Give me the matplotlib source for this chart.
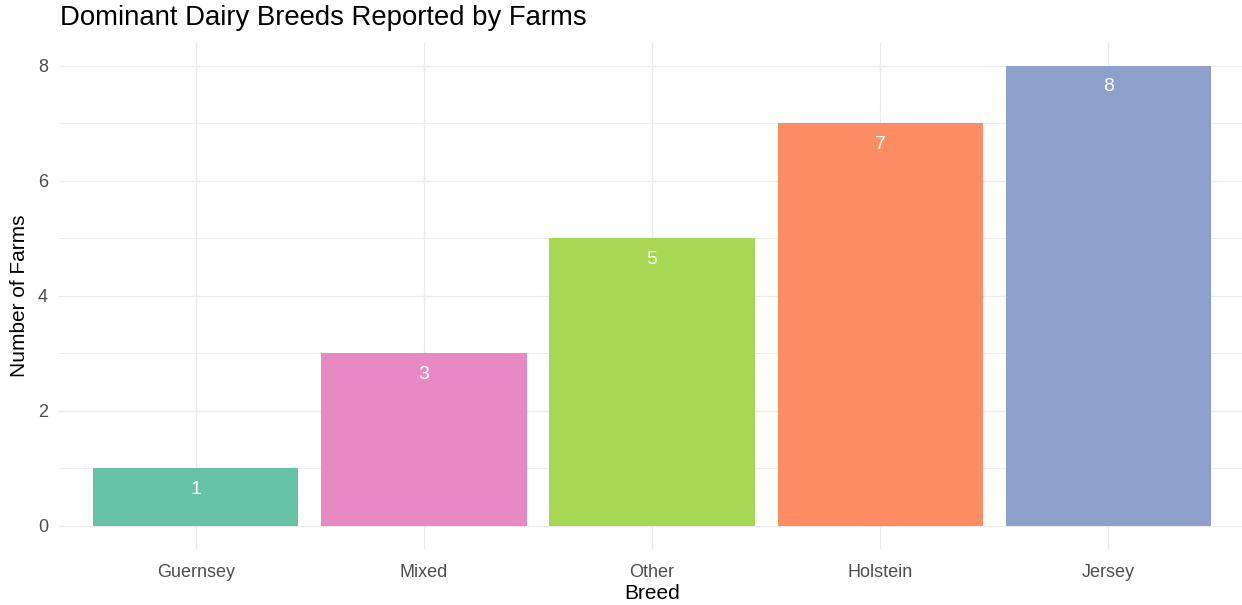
import matplotlib.pyplot as plt
from matplotlib.ticker import MultipleLocator

plt.rcParams["font.family"] = ["Liberation Sans", "DejaVu Sans"]

breeds = ["Guernsey", "Mixed", "Other", "Holstein", "Jersey"]
farms = [1, 3, 5, 7, 8]
colors = ["#66C2A5", "#E78AC3", "#A6D854", "#FC8D62", "#8DA0CB"]

fig = plt.figure(figsize=(12.42, 6.05), dpi=100)
ax = fig.add_axes([0.0475, 0.0926, 0.955, 0.8364])

x = range(1, len(breeds) + 1)
ax.bar(x, farms, width=0.9, color=colors, zorder=2)
for xi, v in zip(x, farms):
    ax.annotate(str(v), (xi, v), xytext=(0, -9), textcoords="offset points",
                ha="center", va="top", color="white", fontsize=14, zorder=3)

ax.set_xlim(0.4, 5.6)
ax.set_ylim(-0.4, 8.4)
ax.set_xticks(list(x))
ax.set_xticklabels(breeds)
ax.yaxis.set_major_locator(MultipleLocator(2))
ax.yaxis.set_minor_locator(MultipleLocator(1))

ax.grid(which="major", color="#EBEBEB", linewidth=1.0, zorder=0)
ax.grid(which="minor", axis="y", color="#EFEFEF", linewidth=0.7, zorder=0)
for s in ax.spines.values():
    s.set_visible(False)
ax.tick_params(which="both", length=0, labelsize=13, labelcolor="#4D4D4D")
ax.tick_params(axis="x", pad=11)
ax.tick_params(axis="y", pad=8)

ax.set_xlabel("Breed", fontsize=15, labelpad=2)
ax.set_ylabel("Number of Farms", fontsize=15, labelpad=6)
fig.text(0.048, 0.97, "Dominant Dairy Breeds Reported by Farms", fontsize=19.8,
         ha="left", va="center")

fig.savefig("out.png", dpi=100, facecolor="white")
